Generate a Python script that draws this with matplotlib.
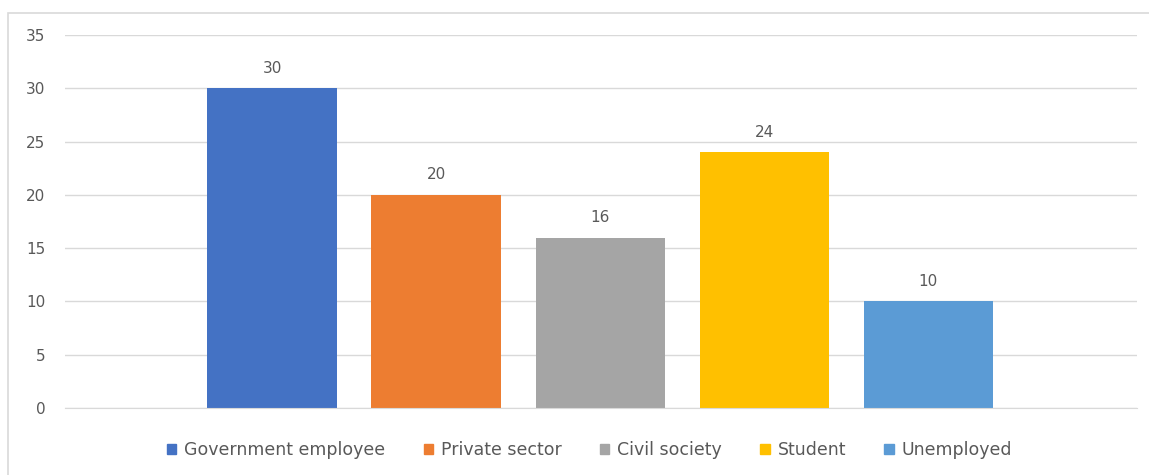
import matplotlib.pyplot as plt
from matplotlib.patches import Rectangle

categories = ['Government employee', 'Private sector', 'Civil society', 'Student', 'Unemployed']
values = [30, 20, 16, 24, 10]
colors = ['#4472c4', '#ed7d31', '#a5a5a5', '#ffc000', '#5b9bd5']
yticks = [0, 5, 10, 15, 20, 25, 30, 35]

plt.rcParams['font.family'] = ['DejaVu Sans']
text_color = '#595959'

fig = plt.figure(figsize=(11.49, 4.75), dpi=100)
ax = fig.add_axes([0.0566, 0.141, 0.933, 0.785])

x = range(len(values))
bars = ax.bar(x, values, width=0.787, color=colors, label=categories, zorder=2)
for xi, v in zip(x, values):
    ax.text(xi, v + 1.2, str(v), ha='center', va='bottom', fontsize=11, color=text_color)

ax.set_xlim(-1.262, 5.274)
ax.set_ylim(0, 35)
ax.set_yticks(yticks)
ax.set_xticks([])
ax.yaxis.grid(True, color='#d9d9d9', linewidth=1, zorder=0)
ax.tick_params(axis='y', length=0, pad=14, labelsize=11, labelcolor=text_color)
for s in ['top', 'right', 'left']:
    ax.spines[s].set_visible(False)
ax.spines['bottom'].set_color('#d9d9d9')

handles = [Rectangle((0, 0), 1, 1, color=c) for c in colors]
fig.legend(handles, categories, loc='center', bbox_to_anchor=(0.513, 0.052), ncol=5,
           frameon=False, fontsize=12.5, labelcolor=text_color, handlelength=0.55,
           handleheight=0.55, handletextpad=0.45, columnspacing=2.2)

fig.patches.append(Rectangle((0.007, -0.05), 1.1, 1.0226, transform=fig.transFigure,
                             fill=False, edgecolor='#d9d9d9', linewidth=1.2))

fig.savefig('out.png', dpi=100)
